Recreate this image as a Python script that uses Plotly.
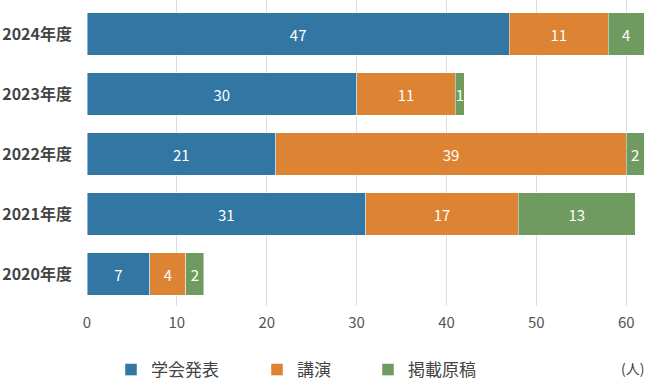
import plotly.graph_objects as go

years = ["2020年度", "2021年度", "2022年度", "2023年度", "2024年度"]
gakkai = [7, 31, 21, 30, 47]
kouen = [4, 17, 39, 11, 11]
keisai = [2, 13, 2, 1, 4]

series = [
    ("学会発表", gakkai, "#3277a3"),
    ("講演", kouen, "#dd8434"),
    ("掲載原稿", keisai, "#709b60"),
]
legend_x = [111, 257, 368]

FONT = "Noto Sans CJK JP"
W, H = 648, 380

fig = go.Figure()
for i, (name, vals, col) in enumerate(series):
    fig.add_trace(go.Bar(
        y=years, x=vals, name=name, orientation="h",
        marker=dict(color=col, line=dict(color="rgba(255,255,255,0.45)", width=1)),
        text=[str(v) for v in vals], textposition="inside",
        insidetextanchor="middle",
        textfont=dict(color="white", size=15, family=FONT),
        hoverinfo="skip",
        legend="legend" if i == 0 else f"legend{i+1}",
        showlegend=True,
    ))

layout_legends = {}
for i, x in enumerate(legend_x):
    key = "legend" if i == 0 else f"legend{i+1}"
    layout_legends[key] = dict(
        x=x / W, xref="container", xanchor="left",
        y=(H - 370) / H, yref="container", yanchor="middle",
        orientation="h", font=dict(size=17, color="#444", family=FONT),
        bgcolor="rgba(0,0,0,0)", borderwidth=0,
    )

fig.update_layout(
    width=W, height=H,
    margin=dict(l=87, r=2, t=0, b=74, autoexpand=False),
    paper_bgcolor="white", plot_bgcolor="white",
    barmode="stack", bargap=0.29,
    font=dict(family=FONT, color="#444"),
    uniformtext=dict(mode="show", minsize=10),
    xaxis=dict(range=[0, 62.2], dtick=10, tick0=0, showgrid=True,
               gridcolor="#dedede", gridwidth=1, zeroline=False,
               showline=False, ticks="", ticklabelstandoff=6,
               tickfont=dict(size=15, color="#555", family=FONT)),
    yaxis=dict(range=[-0.533, 4.567], showgrid=False, zeroline=False, showline=False,
               ticks="", ticklabelstandoff=14,
               tickfont=dict(size=16, color="#444", family=FONT, weight="bold")),
    annotations=[dict(text="(人)", xref="paper", yref="paper",
                      x=1.0, xanchor="right", y=(306 - 368) / 306, yanchor="middle",
                      showarrow=False, font=dict(size=14, color="#444", family=FONT))],
    **layout_legends,
)
fig.write_html("out.html", config={"displayModeBar": False},
               post_script="document.body.style.margin='0';")
